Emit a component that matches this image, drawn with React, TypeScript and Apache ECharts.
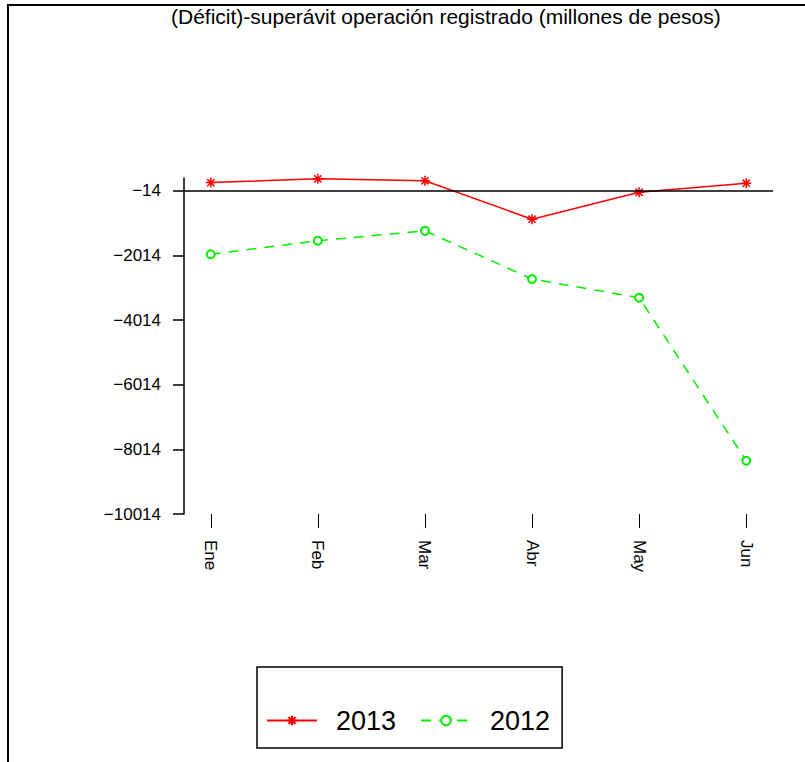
import React, { useEffect, useRef } from "react";
import * as echarts from "echarts";

const titleText = "(Déficit)-superávit operación registrado (millones de pesos)";
const months = ["Ene", "Feb", "Mar", "Abr", "May", "Jun"];
const serie2013 = [245, 360, 300, -890, -55, 225];
const serie2012 = [-1975, -1555, -1250, -2740, -3320, -8365];
const yTicks = [-14, -2014, -4014, -6014, -8014, -10014];
const refLine = -14;

const FONT = "'Liberation Sans', Arial, Helvetica, sans-serif";
const asterisk = "path://M0,-5L0,5M-5,0L5,0M-3.6,-3.6L3.6,3.6M-3.6,3.6L3.6,-3.6";

export default function App() {
  const ref = useRef<HTMLDivElement>(null);
  useEffect(() => {
    if (!ref.current) return;
    const chart = echarts.init(ref.current, undefined, { renderer: "svg" });
    const xIdx = months.map((_, i) => i);
    chart.setOption({
      animation: false,
      backgroundColor: "#ffffff",
      textStyle: { fontFamily: FONT, color: "#000" },
      title: {
        text: titleText,
        left: 171,
        top: 6,
        padding: 0,
        textStyle: { fontSize: 21, fontWeight: "normal", color: "#000", fontFamily: FONT },
      },
      graphic: [
        {
          type: "polyline",
          shape: { points: [[8, 762], [8, 5], [805, 5]] },
          style: { stroke: "#000", lineWidth: 2, fill: "none" },
          silent: true,
        },
      ],
      grid: { left: 184, right: 32, top: 178, bottom: 248, containLabel: false },
      xAxis: {
        type: "value",
        min: -0.25,
        max: 5.25,
        axisLine: { show: false, onZero: false },
        splitLine: { show: false },
        axisTick: {
          show: true,
          customValues: xIdx,
          length: 14,
          lineStyle: { color: "#000", width: 1 },
        },
        axisLabel: {
          customValues: xIdx,
          rotate: -90,
          margin: 26,
          fontSize: 17,
          color: "#000",
          fontFamily: FONT,
          formatter: (v: number) => months[Math.round(v)] ?? "",
        },
      },
      yAxis: {
        type: "value",
        min: -10014,
        max: 386,
        splitLine: { show: false },
        axisLine: { show: true, onZero: false, lineStyle: { color: "#000", width: 1.5 } },
        axisTick: {
          show: true,
          customValues: yTicks,
          length: 11,
          lineStyle: { color: "#000", width: 1.5 },
        },
        axisLabel: {
          customValues: yTicks,
          margin: 23,
          fontSize: 17,
          color: "#000",
          fontFamily: FONT,
          formatter: (v: number) => String(v).replace("-", "\u2212"),
        },
      },
      legend: {
        left: 257,
        top: 667,
        orient: "horizontal",
        padding: [40, 12, 14, 9],
        borderColor: "#000",
        borderWidth: 1.5,
        itemWidth: 50,
        itemHeight: 12,
        itemGap: 24,
        textStyle: { fontSize: 27, color: "#000", fontFamily: FONT, padding: [0, 0, 0, 14] },
        data: ["2013", "2012"],
      },
      series: [
        {
          name: "2013",
          type: "line",
          data: serie2013.map((v, i) => [i, v]),
          symbol: asterisk,
          symbolSize: 10,
          showSymbol: true,
          lineStyle: { color: "#ff0000", width: 1.5, type: "solid" },
          itemStyle: { color: "#ff0000", borderColor: "#ff0000", borderWidth: 1.5 },
          markLine: {
            silent: true,
            symbol: ["none", "none"],
            label: { show: false },
            lineStyle: { color: "#000", width: 1.5, type: "solid" },
            data: [{ yAxis: refLine }],
          },
          z: 3,
        },
        {
          name: "2012",
          type: "line",
          data: serie2012.map((v, i) => [i, v]),
          symbol: "emptyCircle",
          symbolSize: 8,
          showSymbol: true,
          lineStyle: { color: "#00ee00", width: 1.5, type: [10, 8] },
          itemStyle: { color: "#00ee00", borderColor: "#00ee00", borderWidth: 1.5 },
          z: 3,
        },
      ],
    });
    return () => chart.dispose();
  }, []);
  return (
    <div
      ref={ref}
      style={{ position: "fixed", left: 0, top: 0, width: 805, height: 762 }}
    />
  );
}
